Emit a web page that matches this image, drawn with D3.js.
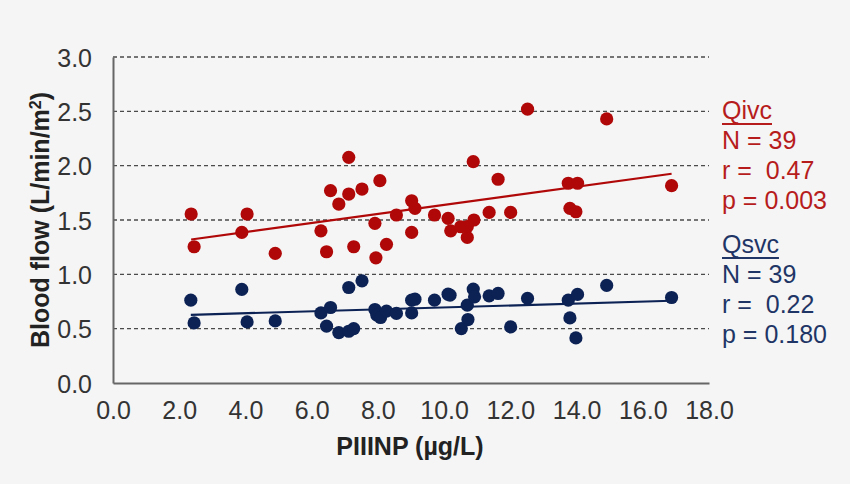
<!DOCTYPE html>
<html>
<head>
<meta charset="utf-8">
<script src="https://cdn.jsdelivr.net/npm/d3@7"></script>
<style>
  body { margin: 0; background: #f5f5f5; }
  svg { display: block; font-family: "Liberation Sans", Arial, sans-serif; }
</style>
</head>
<body>
<div id="chart"></div>
<script>
// PIIINP (x) vs blood flow (y)
const ivcX = [2.36, 4.05, 3.89, 2.45, 4.90, 6.28, 6.82, 6.45, 7.27, 7.91, 7.94, 8.26, 8.56, 9.02, 9.12, 9.02, 9.71, 10.12, 10.20, 10.50,
              10.70, 10.90, 11.36, 12.01, 7.12, 6.57, 7.12, 7.52, 8.06, 10.88, 11.63, 12.52, 14.91, 13.75, 14.03, 16.87, 13.80, 13.98, 10.70];
const ivcY = [1.555, 1.555, 1.386, 1.254, 1.193, 1.40, 1.647, 1.208, 1.254, 1.469, 1.152, 1.276, 1.546, 1.677, 1.607, 1.386, 1.546, 1.515, 1.40, 1.438,
              1.340, 1.50, 1.570, 1.570, 2.077, 1.770, 1.739, 1.785, 1.862, 2.037, 1.875, 2.52, 2.43, 1.838, 1.838, 1.816, 1.607, 1.576, 1.44];

const svcX = [2.35, 2.45, 3.89, 4.05, 4.90, 6.28, 6.57, 6.45, 6.82, 7.12, 7.27, 7.12, 7.52, 7.91, 7.97, 8.08, 8.26, 8.56, 9.02, 9.02,
              9.12, 9.71, 10.12, 10.18, 10.70, 10.52, 10.72, 10.88, 10.92, 11.36, 11.63, 12.01, 12.52, 13.75, 14.03, 13.80, 13.98, 14.91, 16.87];
const svcY = [0.762, 0.553, 0.861, 0.562, 0.571, 0.645, 0.695, 0.523, 0.464, 0.476, 0.501, 0.879, 0.940, 0.676, 0.624, 0.603, 0.661, 0.640, 0.645, 0.762,
              0.771, 0.762, 0.817, 0.808, 0.716, 0.501, 0.584, 0.864, 0.793, 0.802, 0.824, 0.516, 0.778, 0.762, 0.815, 0.599, 0.415, 0.898, 0.787];

const xTicks = [0, 2, 4, 6, 8, 10, 12, 14, 16, 18];
const yTicks = [0, 0.5, 1.0, 1.5, 2.0, 2.5, 3.0];

const ivcStats = ["N = 39", "r =  0.47", "p = 0.003"];
const svcStats = ["N = 39", "r =  0.22", "p = 0.180"];

const RED = "#b00808";
const BLUE = "#0c2255";

const W = 850, H = 484;
const margin = { top: 57, right: 141, bottom: 101, left: 113 };

const svg = d3.select("#chart").append("svg")
  .attr("width", W).attr("height", H);

svg.append("rect").attr("width", W).attr("height", H).attr("fill", "#f5f5f5");

const x = d3.scaleLinear().domain([0, 18]).range([margin.left, W - margin.right]);
const y = d3.scaleLinear().domain([0, 3]).range([H - margin.bottom, margin.top]);

//// dashed gridlines
svg.append("g")
  .selectAll("line")
  .data(yTicks.filter(t => t > 0))
  .join("line")
  .attr("x1", x(0)).attr("x2", x(18))
  .attr("y1", d => y(d)).attr("y2", d => y(d))
  .attr("stroke", "#4a4a4a")
  .attr("stroke-width", 1.4)
  .attr("stroke-dasharray", "4,3");

//// axes
const xAxis = svg.append("g")
  .attr("transform", `translate(0,${y(0)})`)
  .call(d3.axisBottom(x).tickValues(xTicks).tickFormat(d3.format(".1f")).tickSize(0).tickPadding(18));
const yAxis = svg.append("g")
  .attr("transform", `translate(${x(0)},0)`)
  .call(d3.axisLeft(y).tickValues(yTicks).tickFormat(d3.format(".1f")).tickSize(0).tickPadding(21));

[xAxis, yAxis].forEach(g => {
  g.select(".domain").attr("stroke", "#666").attr("stroke-width", 2);
  g.selectAll("text").attr("font-size", 25).attr("fill", "#333")
    .attr("font-family", "'Liberation Sans', Arial, sans-serif");
});
yAxis.selectAll("text").attr("dy", "0.36em");

//// axis titles
svg.append("text")
  .attr("x", 410).attr("y", 455)
  .attr("text-anchor", "middle")
  .attr("font-size", 25).attr("font-weight", "bold").attr("fill", "#222")
  .text("PIIINP (µg/L)");

const yTitle = svg.append("text")
  .attr("transform", `translate(49,${(y(0) + y(3)) / 2}) rotate(-90)`)
  .attr("text-anchor", "middle")
  .attr("font-size", 25).attr("font-weight", "bold").attr("fill", "#222");
yTitle.append("tspan").text("Blood flow (L/min/m");
yTitle.append("tspan").attr("baseline-shift", "super").attr("font-size", 16).text("2");
yTitle.append("tspan").text(")");

//// trend lines (least squares)
const fit = (xs, ys) => {
  const mx = d3.mean(xs), my = d3.mean(ys);
  const b = d3.sum(xs, (v, i) => (v - mx) * (ys[i] - my)) / d3.sum(xs, v => (v - mx) * (v - mx));
  return { b, a: my - b * mx, x0: d3.min(xs), x1: d3.max(xs) };
};

const series = [
  { xs: ivcX, ys: ivcY, color: RED },
  { xs: svcX, ys: svcY, color: BLUE }
];

series.forEach(s => {
  const f = fit(s.xs, s.ys);
  svg.append("line")
    .attr("x1", x(f.x0)).attr("y1", y(f.a + f.b * f.x0))
    .attr("x2", x(f.x1)).attr("y2", y(f.a + f.b * f.x1))
    .attr("stroke", s.color).attr("stroke-width", 2.2);
});

series.forEach(s => {
  svg.append("g")
    .selectAll("circle")
    .data(s.xs.map((v, i) => [v, s.ys[i]]))
    .join("circle")
    .attr("cx", d => x(d[0]))
    .attr("cy", d => y(d[1]))
    .attr("r", 6.6)
    .attr("fill", s.color);
});

//// stats text
const stats = [
  { title: "Qivc", lines: ivcStats, color: "#b71c1c", top: 119 },
  { title: "Qsvc", lines: svcStats, color: "#1f3566", top: 253 }
];
stats.forEach(s => {
  const g = svg.append("g").attr("font-size", 25).attr("fill", s.color);
  const t = g.append("text").attr("x", 722).attr("y", s.top).text(s.title);
  const bb = t.node().getBBox();
  g.append("line")
    .attr("x1", 722).attr("x2", 722 + bb.width)
    .attr("y1", s.top + 5).attr("y2", s.top + 5)
    .attr("stroke", s.color).attr("stroke-width", 1.8);
  s.lines.forEach((l, i) => {
    g.append("text").attr("x", 722).attr("y", s.top + 30 * (i + 1)).style("white-space", "pre").text(l);
  });
});
</script>
</body>
</html>
